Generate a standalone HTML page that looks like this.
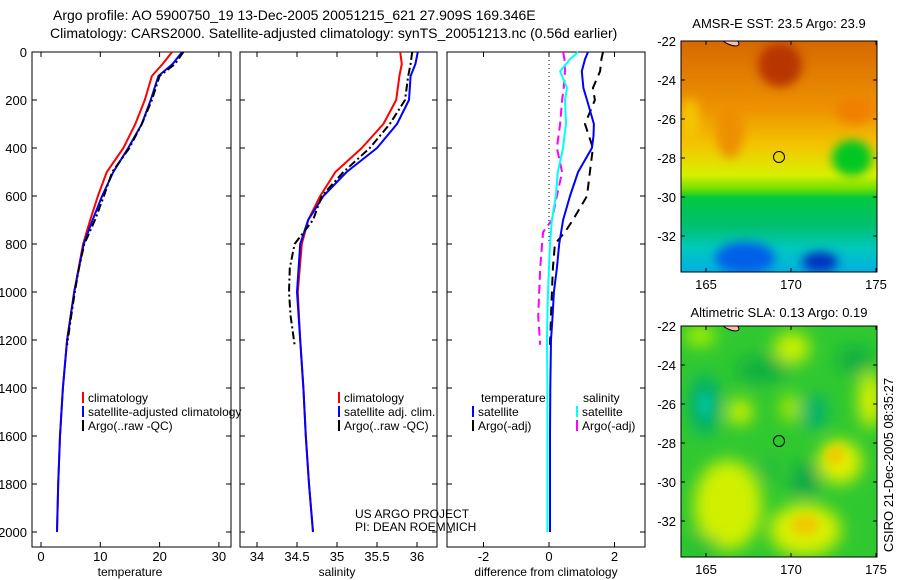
<!DOCTYPE html>
<html><head><meta charset="utf-8"><style>
body{margin:0;background:#fff;}
svg{display:block;font-family:"Liberation Sans",sans-serif;}
</style></head><body>
<svg id="c" width="900" height="580" viewBox="0 0 900 580">
<defs>
<filter id="bl" x="-50%" y="-50%" width="200%" height="200%"><feGaussianBlur stdDeviation="8"/></filter>
<filter id="bl2" x="-50%" y="-50%" width="200%" height="200%"><feGaussianBlur stdDeviation="5"/></filter>
<clipPath id="m1"><rect x="681" y="41" width="196" height="231"/></clipPath>
<clipPath id="m2"><rect x="681" y="326" width="196" height="231"/></clipPath>
<linearGradient id="sst" x1="0" y1="0" x2="0" y2="1">
<stop offset="0" stop-color="#d66800"/><stop offset="0.3" stop-color="#ee9400"/><stop offset="0.45" stop-color="#f4c400"/><stop offset="0.58" stop-color="#d8f000"/><stop offset="0.64" stop-color="#70e000"/><stop offset="0.68" stop-color="#00c840"/><stop offset="0.8" stop-color="#00c070"/><stop offset="0.9" stop-color="#00c8c0"/><stop offset="1" stop-color="#00b0e0"/>
</linearGradient>
</defs>
<g font-size="14">
<text x="53" y="20">Argo profile: AO 5900750_19 13-Dec-2005 20051215_621 27.909S 169.346E</text>
<text x="50" y="38">Climatology: CARS2000. Satellite-adjusted climatology: synTS_20051213.nc (0.56d earlier)</text>
</g>
<g id="panels"></g>

<g>
<text x="779" y="28" font-size="13" text-anchor="middle">AMSR-E SST: 23.5 Argo: 23.9</text>
<g clip-path="url(#m1)">
<rect x="681" y="41" width="196" height="231" fill="url(#sst)"/>
<ellipse cx="780" cy="65" rx="22" ry="22" fill="#b83400" filter="url(#bl2)"/>
<ellipse cx="730" cy="130" rx="14" ry="28" fill="#ec9000" filter="url(#bl2)"/>
<ellipse cx="690" cy="120" rx="10" ry="22" fill="#f4c400" filter="url(#bl2)"/>
<ellipse cx="852" cy="158" rx="20" ry="18" fill="#00c820" filter="url(#bl2)"/>
<ellipse cx="855" cy="110" rx="20" ry="14" fill="#f08000" filter="url(#bl2)"/>
<ellipse cx="745" cy="258" rx="30" ry="16" fill="#0060e8" filter="url(#bl2)"/>
<ellipse cx="820" cy="262" rx="18" ry="10" fill="#0030c0" filter="url(#bl2)"/>
<ellipse cx="728" cy="40" rx="10" ry="4" fill="#f8c0a0" stroke="#000" transform="rotate(25 728 44)"/>
</g>
<rect x="681" y="41" width="196" height="231" fill="none" stroke="#000"/>
<circle cx="779" cy="157" r="5.5" fill="none" stroke="#000"/>
</g>
<g>
<text x="779" y="317" font-size="13" text-anchor="middle">Altimetric SLA: 0.13 Argo: 0.19</text>
<g clip-path="url(#m2)">
<rect x="681" y="326" width="196" height="231" fill="#30c830"/>
<g filter="url(#bl)">
<ellipse cx="728" cy="505" rx="34" ry="45" fill="#d0f000"/>
<ellipse cx="805" cy="530" rx="36" ry="26" fill="#d8f000"/>
<ellipse cx="840" cy="462" rx="22" ry="22" fill="#e0f000"/>
<ellipse cx="792" cy="348" rx="18" ry="16" fill="#c8f000"/>
<ellipse cx="870" cy="400" rx="12" ry="28" fill="#d8f000"/>
<ellipse cx="740" cy="412" rx="13" ry="13" fill="#c8f000"/>
<ellipse cx="700" cy="336" rx="16" ry="10" fill="#a8f000"/>
<ellipse cx="790" cy="408" rx="10" ry="14" fill="#a8e800"/>
<ellipse cx="705" cy="405" rx="16" ry="30" fill="#00b070"/>
<ellipse cx="815" cy="412" rx="12" ry="18" fill="#00b070"/>
<ellipse cx="805" cy="480" rx="14" ry="18" fill="#10a848"/>
<ellipse cx="762" cy="370" rx="26" ry="14" fill="#10b040"/>
<ellipse cx="855" cy="360" rx="18" ry="14" fill="#10b040"/>
<ellipse cx="770" cy="470" rx="8" ry="12" fill="#20b840"/>
<ellipse cx="700" cy="545" rx="18" ry="10" fill="#20c030"/>
</g>
<ellipse cx="705" cy="405" rx="6" ry="12" fill="#00c8a0" filter="url(#bl2)"/>
<ellipse cx="805" cy="525" rx="14" ry="10" fill="#f0c800" filter="url(#bl2)"/>
<ellipse cx="835" cy="455" rx="9" ry="9" fill="#f0c800" filter="url(#bl2)"/>
<ellipse cx="728" cy="325" rx="10" ry="4" fill="#f8c0a0" stroke="#000" transform="rotate(25 728 329)"/>
</g>
<rect x="681" y="326" width="196" height="231" fill="none" stroke="#000"/>
<circle cx="779" cy="441" r="5.5" fill="none" stroke="#000"/>
</g>
<text transform="translate(893,465) rotate(-90)" font-size="13" text-anchor="middle">CSIRO 21-Dec-2005 08:35:27</text>
<g font-size="12">
<text x="355" y="518">US ARGO PROJECT</text>
<text x="355" y="531">PI: DEAN ROEMMICH</text>
</g>
</svg>
<script>
const depths=[0,50,100,200,300,400,500,600,700,800,1000,1200,1400,1600,1800,2000];
const tempClim=[22.1,20.5,18.7,17.5,15.9,13.9,11.1,9.6,8.3,7.1,5.6,4.4,3.7,3.2,2.9,2.7];
const tempSat=[23.8,22.2,19.8,18.5,17.0,14.7,12.2,10.3,8.7,7.2,5.6,4.4,3.7,3.2,2.9,2.7];
const argoDepths=[0,50,100,200,300,400,500,600,700,800,900,1000,1100,1220];
const tempArgo=[24.0,22.6,20.0,18.7,17.0,14.9,12.0,10.6,9.1,7.3,6.4,5.7,5.1,4.4];
const salClim=[35.79,35.81,35.78,35.74,35.58,35.31,34.98,34.79,34.64,34.56,34.51,34.54,34.58,34.61,34.65,34.70];
const salSat=[36.01,35.98,35.92,35.9,35.75,35.5,35.12,34.83,34.64,34.54,34.5,34.54,34.58,34.61,34.65,34.70];
const salArgo=[35.94,35.92,35.89,35.85,35.66,35.41,35.08,34.81,34.70,34.47,34.41,34.40,34.42,34.47];
const diffDepths=[0,30,80,150,200,300,350,400,500,600,700,800,900,1000,1100,1200,1400,1600,1800,2000];
const dTempSat=[1.19,1.1,1.0,1.05,1.16,1.37,1.36,1.31,0.89,0.64,0.43,0.31,0.24,0.15,0.11,0.06,0.04,0.03,0.03,0.03];
const dSalSat=[0.89,0.64,0.34,0.55,0.49,0.52,0.47,0.43,0.27,0.21,0.09,0.03,0.0,-0.03,-0.05,-0.06,-0.05,-0.05,-0.05,-0.05];
const dArgoDepths=[0,30,80,150,200,300,400,500,600,700,750,800,900,1000,1100,1220];
const dTempArgo=[1.65,1.6,1.56,1.34,1.4,1.1,1.34,1.25,1.16,0.73,0.49,0.18,0.12,0.09,0.06,0.03];
const dSalArgo=[0.43,0.47,0.49,0.45,0.4,0.34,0.24,0.4,0.24,0.09,-0.18,-0.21,-0.27,-0.3,-0.33,-0.27];
const depthTicks=[0,200,400,600,800,1000,1200,1400,1600,1800,2000];
const tempTicks=[0,10,20,30];
const salTicks=[34,34.5,35,35.5,36];
const diffTicks=[-2,0,2];
const latTicks=[-22,-24,-26,-28,-30,-32];
const lonTicks=[165,170,175];

const NS='http://www.w3.org/2000/svg';
const root=document.getElementById('panels');
const svg=document.getElementById('c');
function mk(t,a,p){const e=document.createElementNS(NS,t);for(const k in a)e.setAttribute(k,a[k]);(p||root).appendChild(e);return e;}
const top0=52,bot=547;
const yD=d=>top0+d*0.24;
const panels=[
 {name:'temperature',x0:32,x1:231,v0:0,px0:41,s:5.93,ticks:tempTicks,label:'temperature',lx:130},
 {name:'salinity',x0:240,x1:437,v0:34.5,px0:297,s:80,ticks:salTicks,label:'salinity',lx:337},
 {name:'difference',x0:447,x1:645,v0:0,px0:549,s:32.75,ticks:diffTicks,label:'difference from climatology',lx:546}
];
panels.forEach((p,i)=>{
 p.xs=v=>p.px0+(v-p.v0)*p.s;
 const g=mk('g',{});
 
 
 p.g=g;
 const fr=mk('rect',{x:p.x0,y:top0,width:p.x1-p.x0,height:bot-top0,fill:'none',stroke:'#000'},g);
 
 
 p.ticks.forEach(t=>{
  const x=p.xs(t);
  mk('line',{x1:x,x2:x,y1:top0,y2:top0+5,stroke:'#000'},g);
  mk('line',{x1:x,x2:x,y1:bot,y2:bot-5,stroke:'#000'},g);
  const tx=mk('text',{x:x,y:561,'font-size':13,'text-anchor':'middle'},g);
  tx.textContent=t;
  
  
 });
 depthTicks.forEach(d=>{
  mk('line',{x1:p.x0,x2:p.x0+5,y1:yD(d),y2:yD(d),stroke:'#000'},g);
  mk('line',{x1:p.x1,x2:p.x1-5,y1:yD(d),y2:yD(d),stroke:'#000'},g);
  if(i===0){const tx=mk('text',{x:27,y:yD(d)+5,'font-size':13,'text-anchor':'end'},g);tx.textContent=d;
   
   }
 });
 const xl=mk('text',{x:p.lx,y:576,'font-size':12,'text-anchor':'middle'},g);
 xl.textContent=p.label;
 
 
});
function line(p,ds,vs,col,dash,name,w){
 const pts=ds.map((d,k)=>p.xs(vs[k]).toFixed(1)+','+yD(d).toFixed(1)).join(' ');
 const e=mk('polyline',{points:pts,fill:'none',stroke:col,'stroke-width':w||2,'stroke-dasharray':dash||'none','stroke-linejoin':'round'},p.g);
 
 
}
const [P1,P2,P3]=panels;
line(P1,depths,tempClim,'#f00',null,'temp-climatology-line');
line(P1,depths,tempSat,'#00f',null,'temp-satellite-line');
line(P1,argoDepths,tempArgo,'#000','8,3,2,3','temp-argo-line');
line(P2,depths,salClim,'#f00',null,'sal-climatology-line');
line(P2,depths,salSat,'#00f',null,'sal-satellite-line');
line(P2,argoDepths,salArgo,'#000','8,3,2,3','sal-argo-line');
const zl=mk('line',{x1:P3.xs(0),x2:P3.xs(0),y1:top0,y2:yD(800),stroke:'#000','stroke-dasharray':'1,3'},P3.g);


line(P3,dArgoDepths,dTempArgo,'#000','9,6','diff-temp-argo-line');
line(P3,dArgoDepths,dSalArgo,'#f0f','9,5','diff-sal-argo-line');
line(P3,diffDepths,dSalSat,'#0ff',null,'diff-sal-satellite-line');
line(P3,diffDepths,dTempSat,'#00f',null,'diff-temp-satellite-line');

function legend(g,x,y,col,txt){
 const l=mk('line',{x1:x,x2:x,y1:y-10,y2:y+1,stroke:col,'stroke-width':2},g);
 
 
 const t=mk('text',{x:x+5,y:y,'font-size':12},g);t.textContent=txt;
 
 
}
legend(P1.g,83,402,'#f00','climatology');
legend(P1.g,83,416,'#00f','satellite-adjusted climatology');
legend(P1.g,83,430,'#000','Argo(..raw -QC)');
legend(P2.g,339,402,'#f00','climatology');
legend(P2.g,339,416,'#00f','satellite adj. clim.');
legend(P2.g,339,430,'#000','Argo(..raw -QC)');
let t=mk('text',{x:481,y:402,'font-size':12},P3.g);t.textContent='temperature';


t=mk('text',{x:583,y:402,'font-size':12},P3.g);t.textContent='salinity';


legend(P3.g,473,416,'#00f','satellite');
legend(P3.g,473,430,'#000','Argo(-adj)');
legend(P3.g,577,416,'#0ff','satellite');
legend(P3.g,577,430,'#f0f','Argo(-adj)');

const lonX=v=>706+(v-165)*17;
[[41,272],[326,557]].forEach(([y0,y1],mi)=>{
 const g=mk('g',{},svg);
 
 
 latTicks.forEach(la=>{
  const y=y0+(-22-la)*19.5;
  mk('line',{x1:681,x2:685,y1:y,y2:y,stroke:'#000'},g);
  mk('line',{x1:877,x2:873,y1:y,y2:y,stroke:'#000'},g);
  const tx=mk('text',{x:676,y:y+5,'font-size':13,'text-anchor':'end'},g);tx.textContent=la;
  
  
 });
 lonTicks.forEach(lo=>{
  const x=lonX(lo);
  mk('line',{x1:x,x2:x,y1:y0,y2:y0+4,stroke:'#000'},g);
  mk('line',{x1:x,x2:x,y1:y1,y2:y1-4,stroke:'#000'},g);
  const tx=mk('text',{x:x,y:y1+17,'font-size':13,'text-anchor':'middle'},g);tx.textContent=lo;
  
  
 });
});
</script>
</body></html>
